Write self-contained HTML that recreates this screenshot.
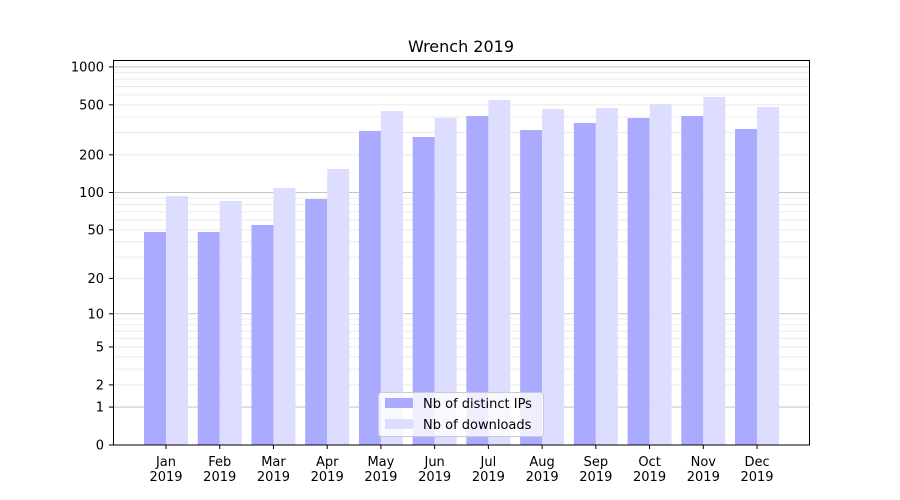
<!DOCTYPE html>
<html><head><meta charset="utf-8"><style>body{margin:0;background:#fff}svg{display:block}text{font-family:"DejaVu Sans","Liberation Sans",sans-serif;}</style></head><body>
<svg width="900" height="500" viewBox="0 0 900 500" xmlns="http://www.w3.org/2000/svg">
<rect width="900" height="500" fill="#fff"/>
<g id="grid"></g>
<g id="bars"></g>
<rect x="113.5" y="60.5" width="696" height="384.5" fill="none" stroke="#000" stroke-width="1"/>
<g id="ticks" font-size="13" fill="#000"></g>
<text x="461" y="52" font-size="16" text-anchor="middle">Wrench 2019</text>
<g>
<rect x="378.5" y="392.5" width="165" height="44" rx="3" fill="#fff" fill-opacity="0.8" stroke="#ccc"/>
<rect x="385" y="398" width="28" height="10" fill="#aaaaff"/>
<text x="423" y="408" font-size="13">Nb of distinct IPs</text>
<rect x="385" y="419" width="28" height="10" fill="#ddddff"/>
<text x="423" y="429" font-size="13">Nb of downloads</text>
</g>
<script>
var ns="http://www.w3.org/2000/svg";
function Y(v){return 445-126*Math.log10(1+v);}
function el(p,t,a,txt){var e=document.createElementNS(ns,t);for(var k in a)e.setAttribute(k,a[k]);if(txt!==undefined)e.textContent=txt;document.getElementById(p).appendChild(e);}
var minors=[];
[1,10,100].forEach(function(d){for(var i=2;i<=9;i++)minors.push(i*d);});
minors.forEach(function(v){var y=Y(v);el("grid","line",{x1:114,x2:809,y1:y,y2:y,stroke:"#e6e6e6","stroke-width":0.8});});
[1,10,100,1000].forEach(function(v){var y=Y(v);el("grid","line",{x1:114,x2:809,y1:y,y2:y,stroke:"#bbb","stroke-width":0.8});});
var ip=[232,232,225,199,131,137,116,130,123,118,116,129];
var dl=[196,201,188,169,111,118,100,109,108,104,97,107];
var m=["Jan","Feb","Mar","Apr","May","Jun","Jul","Aug","Sep","Oct","Nov","Dec"];
for(var i=0;i<12;i++){var c=166+i*53.73;
el("bars","rect",{x:c-22,y:ip[i],width:22,height:445-ip[i],fill:"#aaaaff"});
el("bars","rect",{x:c,y:dl[i],width:22,height:445-dl[i],fill:"#ddddff"});
el("ticks","line",{x1:c,x2:c,y1:445,y2:449,stroke:"#000"});
el("ticks","text",{x:c,y:466,"text-anchor":"middle"},m[i]);
el("ticks","text",{x:c,y:481,"text-anchor":"middle"},"2019");}
[0,1,2,5,10,20,50,100,200,500,1000].forEach(function(v){var y=Y(v);
el("ticks","line",{x1:109,x2:113,y1:y,y2:y,stroke:"#000"});
el("ticks","text",{x:104,y:y+4.5,"text-anchor":"end"},String(v));});
</script>
</svg>
</body></html>
